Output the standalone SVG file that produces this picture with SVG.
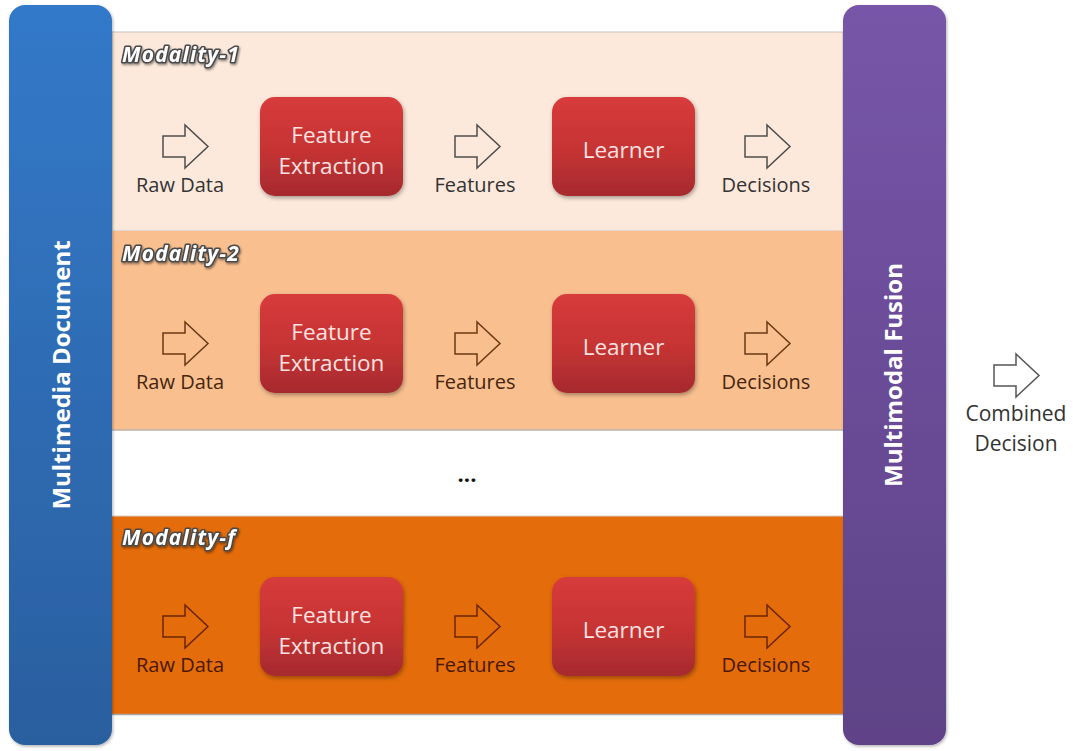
<svg xmlns="http://www.w3.org/2000/svg" width="1073" height="751" viewBox="0 0 1073 751">
<defs>
  <linearGradient id="gBlue" x1="0" y1="0" x2="0" y2="1">
    <stop offset="0" stop-color="#3279C9"/>
    <stop offset="1" stop-color="#2B5F9F"/>
  </linearGradient>
  <linearGradient id="gPurple" x1="0" y1="0" x2="0" y2="1">
    <stop offset="0" stop-color="#7755A8"/>
    <stop offset="1" stop-color="#5E4387"/>
  </linearGradient>
  <linearGradient id="gRed" x1="0" y1="0" x2="0" y2="1">
    <stop offset="0" stop-color="#D83B3B"/>
    <stop offset="0.55" stop-color="#C53333"/>
    <stop offset="1" stop-color="#A62A2E"/>
  </linearGradient>
  <filter id="shadow" x="-10%" y="-10%" width="130%" height="130%">
    <feDropShadow dx="1" dy="2" stdDeviation="2" flood-color="#000" flood-opacity="0.35"/>
  </filter>
  <filter id="bshadow" x="-10%" y="-10%" width="130%" height="130%">
    <feDropShadow dx="1" dy="1.5" stdDeviation="1.5" flood-color="#000" flood-opacity="0.3"/>
  </filter>
  <filter id="tshadow" x="-10%" y="-20%" width="130%" height="160%">
    <feDropShadow dx="1" dy="1.5" stdDeviation="1" flood-color="#000" flood-opacity="0.45"/>
  </filter>
  <path id="blk" d="M0,11 H22 V0 L45,21.5 L22,43 V32 H0 Z"/>
</defs>
<style>
  .box { fill: url(#gRed); filter: url(#shadow); }
  .btxt { font-family: "Open Sans", "Liberation Sans", sans-serif; font-size: 22.5px; fill: #FBE3E1; text-anchor: middle; }
  .lbl { font-family: "Open Sans", "Liberation Sans", sans-serif; font-size: 20px; text-anchor: middle; }
  .mod { font-family: "Open Sans", "Liberation Sans", sans-serif; font-size: 21px; font-weight: 700; font-style: italic; letter-spacing: 1.2px; fill: #ffffff; stroke: #4a4a4a; stroke-width: 3.2px; paint-order: stroke; stroke-linejoin: round; filter: url(#tshadow); }
  .vt { font-family: "Open Sans", "Liberation Sans", sans-serif; font-size: 24px; font-weight: 700; fill: #ffffff; text-anchor: middle; }
  .a1 { fill: #FCE9DB; stroke: #4d4d4d; stroke-width: 1.5; }
  .a2 { fill: #F9BF8F; stroke: #6B3A14; stroke-width: 1.5; }
  .a3 { fill: #E46C0A; stroke: #6A2400; stroke-width: 1.5; }
  .a0 { fill: #ffffff; stroke: #555555; stroke-width: 1.5; }
  .c1 { fill: #333333; }
  .c2 { fill: #46260E; }
  .c3 { fill: #4A1800; }
</style>
<rect width="1073" height="751" fill="#ffffff"/>

<g id="bands">
  <rect x="112" y="32" width="731" height="199" fill="#FCE9DB" stroke="#c9c2bc" stroke-width="1"/>
  <rect x="112" y="231" width="731" height="199" fill="#F9BF8F"/>
  <line x1="112" y1="430" x2="843" y2="430" stroke="#bdb3aa" stroke-width="1.5"/>
  <rect x="112" y="516" width="731" height="198" fill="#E46C0A"/>
  <line x1="112" y1="714.5" x2="843" y2="714.5" stroke="#a8a8a8" stroke-width="1.5"/>
  <line x1="112" y1="516" x2="843" y2="516" stroke="#d9d0c8" stroke-width="1"/>
  <text x="467" y="482" font-family="Open Sans, Liberation Sans, sans-serif" font-size="22" font-weight="700" fill="#111" text-anchor="middle">...</text>
</g>

<g id="multimedia-document">
  <rect x="9" y="5" width="103" height="740" rx="16" fill="url(#gBlue)" filter="url(#bshadow)"/>
  <text class="vt" transform="translate(70,375) rotate(-90)">Multimedia Document</text>
</g>

<g id="multimodal-fusion">
  <rect x="843" y="5" width="103" height="740" rx="16" fill="url(#gPurple)" filter="url(#bshadow)"/>
  <text class="vt" transform="translate(902,375) rotate(-90)">Multimodal Fusion</text>
</g>

<g id="modality-1">
  <text class="mod" x="122" y="62">Modality-1</text>
  <g id="fe-1"><rect class="box" x="260" y="97" width="143" height="99" rx="15"/>
    <text class="btxt" x="331.5" y="143">Feature</text><text class="btxt" x="331.5" y="174">Extraction</text></g>
  <g id="learner-1"><rect class="box" x="552" y="97" width="143" height="99" rx="15"/>
    <text class="btxt" x="623.5" y="158">Learner</text></g>
</g>

<g id="modality-2">
  <text class="mod" x="122" y="261">Modality-2</text>
  <g id="fe-2"><rect class="box" x="260" y="294" width="143" height="99" rx="15"/>
    <text class="btxt" x="331.5" y="340">Feature</text><text class="btxt" x="331.5" y="371">Extraction</text></g>
  <g id="learner-2"><rect class="box" x="552" y="294" width="143" height="99" rx="15"/>
    <text class="btxt" x="623.5" y="355">Learner</text></g>
</g>

<g id="modality-f">
  <text class="mod" x="122" y="545">Modality-f</text>
  <g id="fe-f"><rect class="box" x="260" y="577" width="143" height="99" rx="15"/>
    <text class="btxt" x="331.5" y="623">Feature</text><text class="btxt" x="331.5" y="654">Extraction</text></g>
  <g id="learner-f"><rect class="box" x="552" y="577" width="143" height="99" rx="15"/>
    <text class="btxt" x="623.5" y="638">Learner</text></g>
</g>

<g id="connectors">
  <use href="#blk" class="a1" x="163" y="125"/>
  <use href="#blk" class="a1" x="455" y="125"/>
  <use href="#blk" class="a1" x="745" y="125"/>
  <text class="lbl c1" x="180" y="192">Raw Data</text>
  <text class="lbl c1" x="475" y="192">Features</text>
  <text class="lbl c1" x="766" y="192">Decisions</text>

  <use href="#blk" class="a2" x="163" y="322"/>
  <use href="#blk" class="a2" x="455" y="322"/>
  <use href="#blk" class="a2" x="745" y="322"/>
  <text class="lbl c2" x="180" y="389">Raw Data</text>
  <text class="lbl c2" x="475" y="389">Features</text>
  <text class="lbl c2" x="766" y="389">Decisions</text>

  <use href="#blk" class="a3" x="163" y="605"/>
  <use href="#blk" class="a3" x="455" y="605"/>
  <use href="#blk" class="a3" x="745" y="605"/>
  <text class="lbl c3" x="180" y="672">Raw Data</text>
  <text class="lbl c3" x="475" y="672">Features</text>
  <text class="lbl c3" x="766" y="672">Decisions</text>

  <use href="#blk" class="a0" x="994" y="354"/>
  <text class="lbl c1" x="1016" y="421" style="font-size:21px">Combined</text>
  <text class="lbl c1" x="1016" y="451" style="font-size:21px">Decision</text>
</g>
</svg>
